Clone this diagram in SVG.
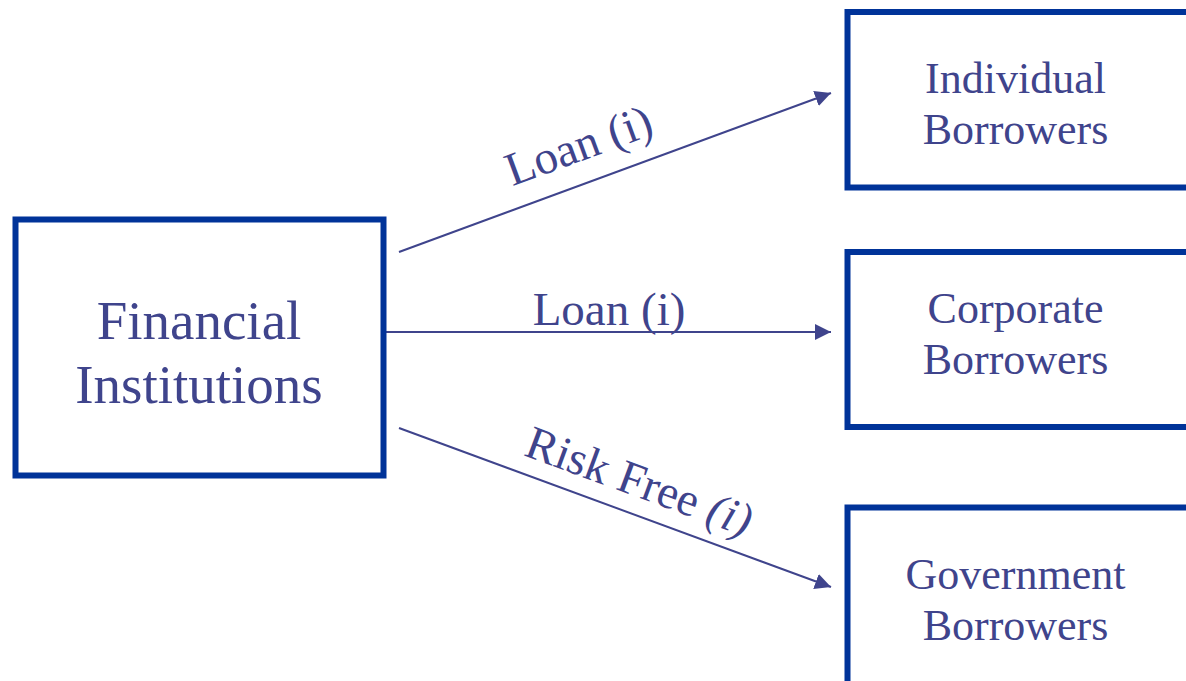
<svg xmlns="http://www.w3.org/2000/svg" width="1186" height="681" viewBox="0 0 1186 681">
<style>
.box{fill:#ffffff;stroke:#003399;stroke-width:6}
.t{font-family:"Liberation Serif","Times New Roman",serif;fill:#3f448c;text-anchor:middle}
.big{font-size:55px}
.mid{font-size:44px}
.lbl{font-size:47px}
.c{stroke:#3f448c;stroke-width:2;fill:none;marker-end:url(#ah)}
</style>
<defs>
<marker id="ah" markerUnits="userSpaceOnUse" markerWidth="18" markerHeight="16" refX="16" refY="8" orient="auto">
<path d="M0,0 L16,8 L0,16 Z" fill="#3f448c"/>
</marker>
</defs>
<rect width="1186" height="681" fill="#ffffff"/>
<g id="connectors">
<line class="c" x1="399" y1="252" x2="831" y2="93"/>
<line class="c" x1="384" y1="332" x2="831" y2="332"/>
<line class="c" x1="399" y1="428" x2="831" y2="587"/>
<text class="t lbl" transform="translate(584,160) rotate(-20.2)">Loan (i)</text>
<text class="t lbl" x="609" y="325">Loan (i)</text>
<text class="t lbl" transform="translate(634,496) rotate(20.2)">Risk Free <tspan font-style="italic">(i)</tspan></text>
</g>
<g id="financial">
<rect class="box" x="15.5" y="219.5" width="368" height="256"/>
<text class="t big" x="199" y="339">Financial</text>
<text class="t big" x="199" y="403">Institutions</text>
</g>
<g id="individual">
<rect class="box" x="847.5" y="12" width="350" height="175.5"/>
<text class="t mid" x="1015.5" y="93">Individual</text>
<text class="t mid" x="1015.5" y="144">Borrowers</text>
</g>
<g id="corporate">
<rect class="box" x="847.5" y="252" width="350" height="175"/>
<text class="t mid" x="1015.5" y="323">Corporate</text>
<text class="t mid" x="1015.5" y="374">Borrowers</text>
</g>
<g id="government">
<rect class="box" x="847.5" y="507.5" width="350" height="200"/>
<text class="t mid" x="1015.5" y="589">Government</text>
<text class="t mid" x="1015.5" y="640">Borrowers</text>
</g>
</svg>
